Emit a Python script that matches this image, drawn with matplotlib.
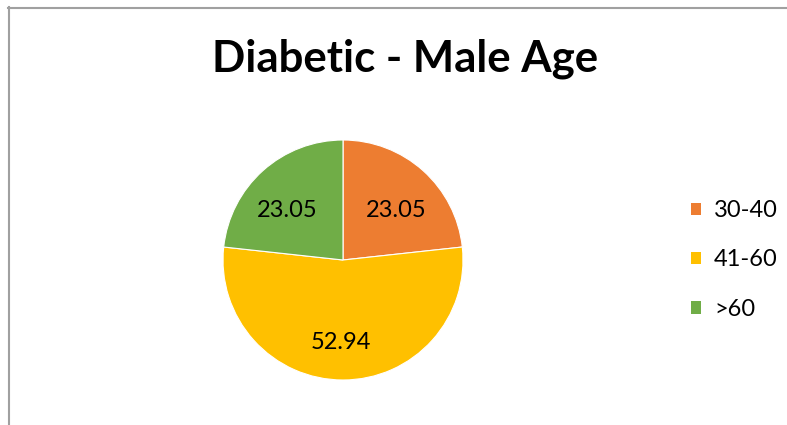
import matplotlib
matplotlib.use("Agg")
import matplotlib.pyplot as plt
from matplotlib.lines import Line2D
from matplotlib.patches import Patch

categories = ["30-40", "41-60", ">60"]
values = [23.05, 52.94, 23.05]
colors = ["#ED7D31", "#FFC000", "#70AD47"]
title = "Diabetic - Male Age"

W, H = 787, 425
fig = plt.figure(figsize=(W / 100, H / 100), dpi=100)
fig.patch.set_facecolor("white")

# pie axes: center (343,260) px, radius 120 px
cx, cy, r = 343, 260, 120
ax = fig.add_axes([(cx - r) / W, (H - cy - r) / H, 2 * r / W, 2 * r / H])
wedges, texts, autotexts = ax.pie(
    values, colors=colors, startangle=90, counterclock=False,
    autopct=lambda p: "", pctdistance=0.66,
    wedgeprops=dict(edgecolor="white", linewidth=0.8), radius=1.0)
label_pos = [(0.44, 0.415), (-0.02, -0.69), (-0.465, 0.415)]
for at, v, pos in zip(autotexts, values, label_pos):
    at.set_text(f"{v:.2f}")
    at.set_position(pos)
    at.set_fontfamily("Lato")
    at.set_fontsize(17)
    at.set_color("black")
ax.set_xlim(-1, 1)
ax.set_ylim(-1, 1)
ax.set_aspect("equal")
ax.axis("off")

fig.text(405 / W, 1 - 59 / H, title, ha="center", va="center",
         fontfamily="Lato", fontweight="bold", fontsize=31.5)

handles = [Patch(facecolor=c, edgecolor="none") for c in colors]
fig.legend(handles, categories, loc="center left",
           bbox_to_anchor=(670 / W, 1 - 260 / H), frameon=False,
           prop=dict(family="Lato", size=17), handlelength=0.42,
           handleheight=0.42, handletextpad=0.55, labelspacing=1.2)

# partial frame (top and left)
lc = "#A0A0A0"
fig.add_artist(Line2D([8 / W, 1.0], [1 - 7.5 / H, 1 - 7.5 / H], color=lc, lw=1.5,
                      transform=fig.transFigure))
fig.add_artist(Line2D([8.5 / W, 8.5 / W], [1 - 7 / H, 0.0], color=lc, lw=1.5,
                      transform=fig.transFigure))

fig.savefig("out.png", dpi=100, facecolor="white")
